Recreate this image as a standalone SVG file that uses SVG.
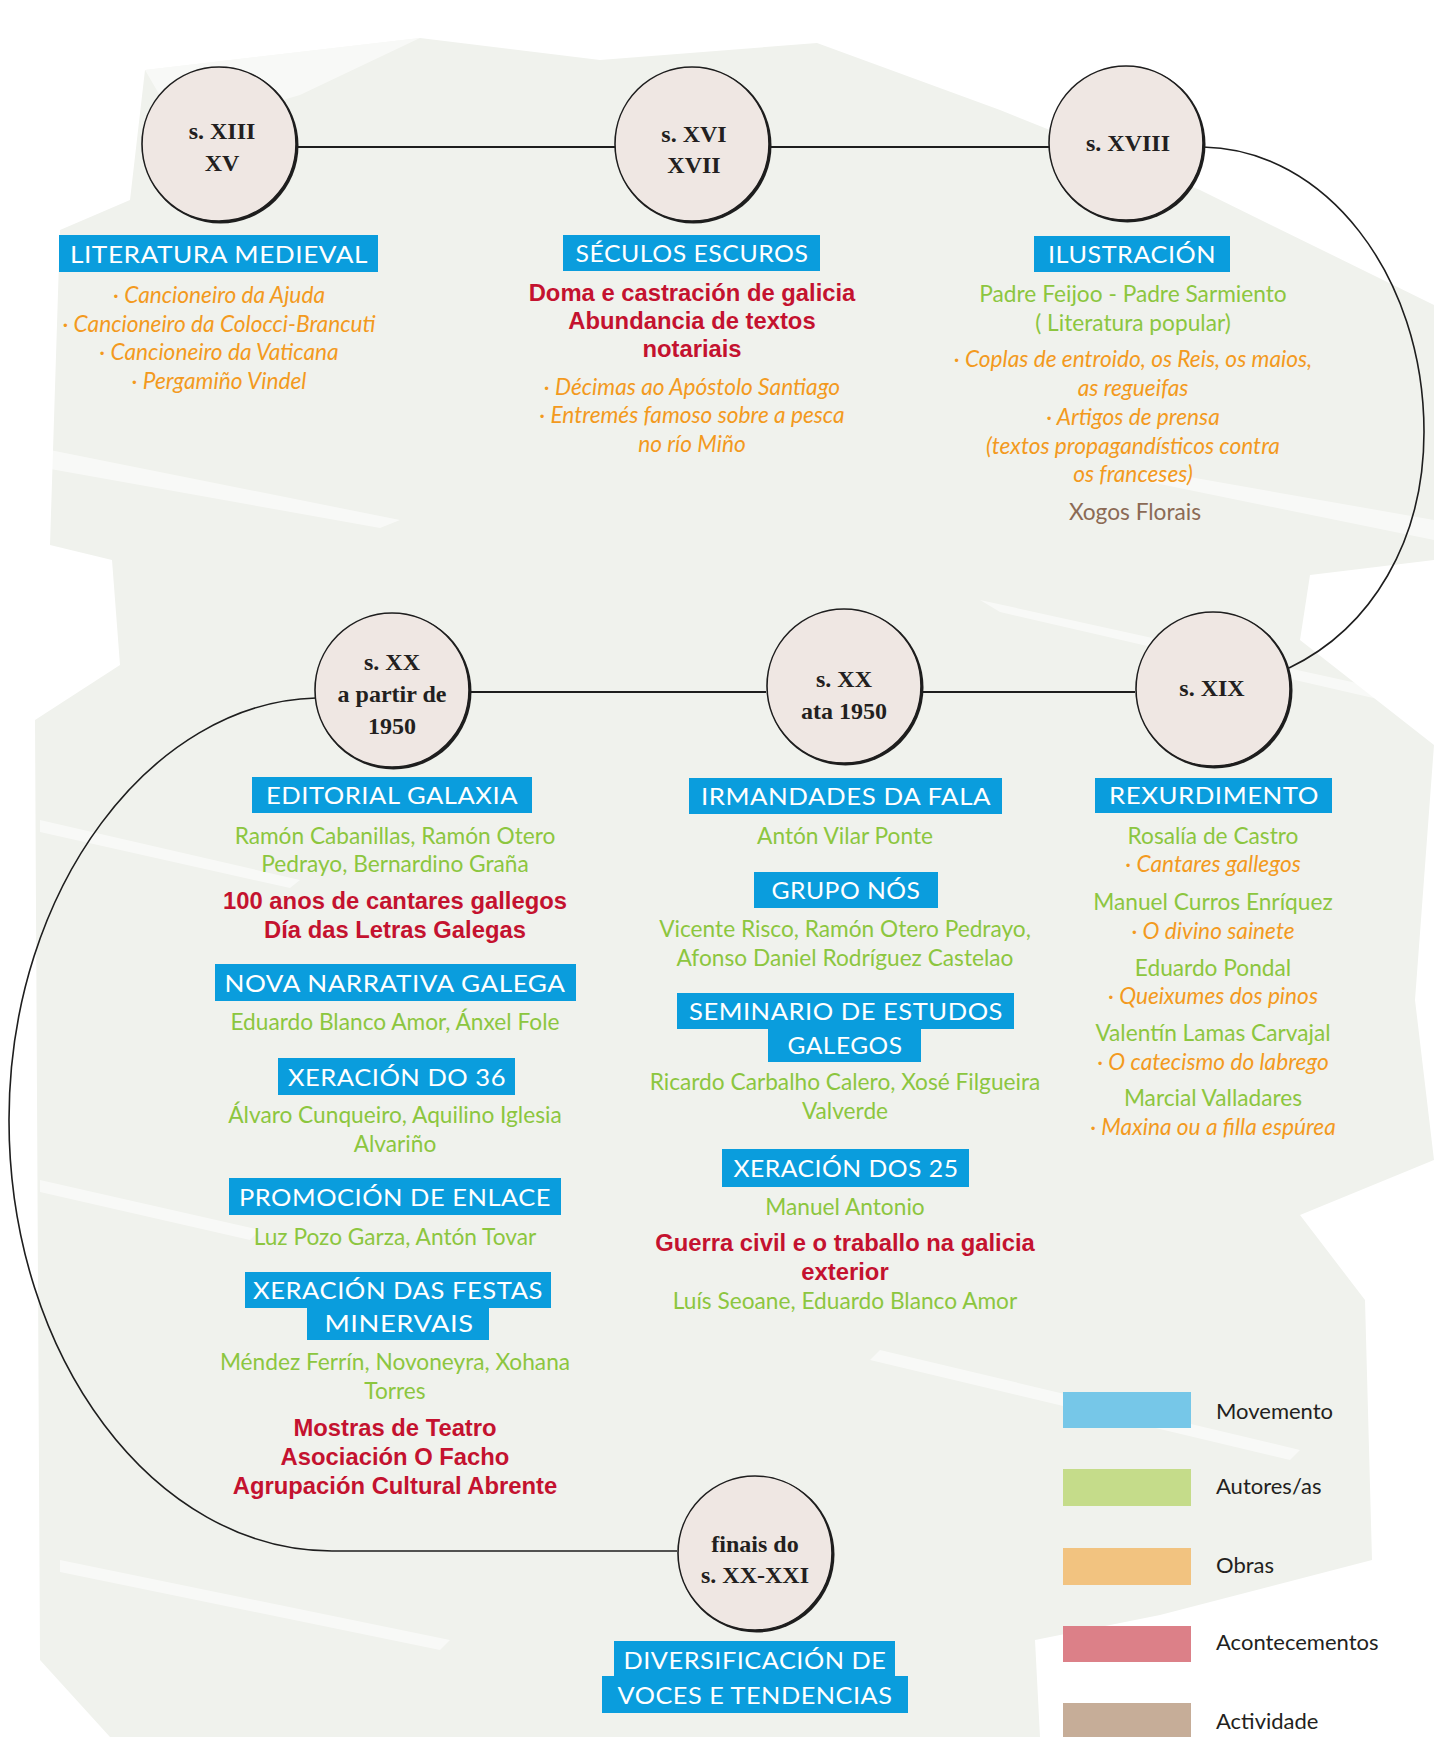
<svg xmlns="http://www.w3.org/2000/svg" width="1434" height="1737" viewBox="0 0 1434 1737">
<style>
.bg{fill:#f0f2ed}
.streak{fill:#ffffff;opacity:0.55}
.cshadow{fill:#1e1e1e}
.cnode{fill:#efe7e3;stroke:#1e1e1e;stroke-width:1.6}
.ctext{font-family:"Liberation Serif",serif;font-weight:bold;font-size:24px;fill:#231f20;text-anchor:middle}
.conn{fill:none;stroke:#1e1e1e;stroke-width:1.8}
.arc{fill:none;stroke:#1e1e1e;stroke-width:1.6}
.hbox{fill:#0a9ddd}
.htext{font-family:Lato,"Open Sans",sans-serif;font-size:24px;fill:#ffffff;text-anchor:middle;letter-spacing:0.5px}
.g{font-family:Lato,"Open Sans",sans-serif;font-size:22.7px;fill:#8cc63f;text-anchor:middle}
.o{font-family:Lato,"Open Sans",sans-serif;font-style:italic;font-size:22.7px;fill:#f39a1e;text-anchor:middle}
.r{font-family:"Liberation Sans",Arial,sans-serif;font-weight:bold;font-size:23.8px;fill:#c4122f;text-anchor:middle}
.b{font-family:Lato,"Open Sans",sans-serif;font-size:22.7px;fill:#8b6a55;text-anchor:middle}
.lg{font-family:Lato,"Open Sans",sans-serif;font-size:22px;fill:#231f20}
</style>

<g id="background">
<path class="bg" d="M60,230 L130,200 L145,70 L420,38 L600,60 L817,43 L1000,110 L1200,190 L1434,305 L1434,560 L1310,575 L1300,640 L1434,745 L1415,1000 L1434,1160 L1300,1215 L1365,1300 L1372,1560 L1160,1615 L1035,1640 L1040,1737 L110,1737 L40,1660 L35,720 L120,665 L112,560 L50,545 Z"/>
<path class="streak" d="M145,70 L420,38 L300,95 L180,130 Z"/>
<path class="streak" d="M0,440 L400,520 L380,528 L0,460 Z"/>
<path class="streak" d="M1150,470 L1434,520 L1434,540 L1140,480 Z"/>
<path class="streak" d="M980,600 L1434,700 L1434,712 L1000,612 Z"/>
<path class="streak" d="M40,820 L300,880 L290,888 L40,832 Z"/>
<path class="streak" d="M40,1180 L260,1230 L250,1240 L40,1192 Z"/>
<path class="streak" d="M880,1350 L1300,1450 L1290,1460 L870,1360 Z"/>
<path class="streak" d="M60,1560 L450,1640 L440,1650 L60,1572 Z"/>
</g>

<g id="connectors">
<path class="conn" d="M297,147 L615,147"/>
<path class="conn" d="M769,147 L1049,147"/>
<path class="arc" d="M1203,147 C1325,149 1424,275 1424,432 C1424,540 1372,628 1289,668"/>
<path class="conn" d="M470,692 L766,692"/>
<path class="conn" d="M922,692 L1135,692"/>
<path class="arc" d="M316,698 C153,702 9,887 9,1120 C9,1358 155,1551 332,1551 L677,1551"/>
</g>

<g id="node-s13">
<circle class="cshadow" cx="220.5" cy="145.5" r="78"/>
<circle class="cnode" cx="219" cy="144" r="77"/>
<text class="ctext" x="222" y="139">s. XIII</text>
<text class="ctext" x="222" y="171">XV</text>
</g>
<g id="node-s16">
<circle class="cshadow" cx="693.5" cy="145.5" r="78"/>
<circle class="cnode" cx="692" cy="144" r="77"/>
<text class="ctext" x="694" y="142">s. XVI</text>
<text class="ctext" x="694" y="173">XVII</text>
</g>
<g id="node-s18">
<circle class="cshadow" cx="1127.5" cy="144.5" r="78"/>
<circle class="cnode" cx="1126" cy="143" r="77"/>
<text class="ctext" x="1128" y="151">s. XVIII</text>
</g>
<g id="node-s19">
<circle class="cshadow" cx="1214.5" cy="690.5" r="78"/>
<circle class="cnode" cx="1213" cy="689" r="77"/>
<text class="ctext" x="1212" y="696">s. XIX</text>
</g>
<g id="node-s20a">
<circle class="cshadow" cx="845.5" cy="687.5" r="78"/>
<circle class="cnode" cx="844" cy="686" r="77"/>
<text class="ctext" x="844" y="687">s. XX</text>
<text class="ctext" x="844" y="719">ata 1950</text>
</g>
<g id="node-s20b">
<circle class="cshadow" cx="393.5" cy="691.5" r="78"/>
<circle class="cnode" cx="392" cy="690" r="77"/>
<text class="ctext" x="392" y="670">s. XX</text>
<text class="ctext" x="392" y="702">a partir de</text>
<text class="ctext" x="392" y="734">1950</text>
</g>
<g id="node-s21">
<circle class="cshadow" cx="756.5" cy="1554.5" r="78"/>
<circle class="cnode" cx="755" cy="1553" r="77"/>
<text class="ctext" x="755" y="1552">finais do</text>
<text class="ctext" x="755" y="1583">s. XX-XXI</text>
</g>

<g id="col-medieval">
<rect class="hbox" x="59" y="235" width="319" height="37"/>
<text class="htext" x="219" y="263" textLength="298" lengthAdjust="spacingAndGlyphs">LITERATURA MEDIEVAL</text>
<text class="o" x="219" y="303">· Cancioneiro da Ajuda</text>
<text class="o" x="219" y="332">· Cancioneiro da Colocci-Brancuti</text>
<text class="o" x="219" y="360">· Cancioneiro da Vaticana</text>
<text class="o" x="219" y="389">· Pergamiño Vindel</text>
</g>

<g id="col-escuros">
<rect class="hbox" x="563" y="235" width="257" height="36"/>
<text class="htext" x="692" y="262" textLength="233" lengthAdjust="spacingAndGlyphs">SÉCULOS ESCUROS</text>
<text class="r" x="692" y="301">Doma e castración de galicia</text>
<text class="r" x="692" y="329">Abundancia de textos</text>
<text class="r" x="692" y="357">notariais</text>
<text class="o" x="692" y="395">· Décimas ao Apóstolo Santiago</text>
<text class="o" x="692" y="423">· Entremés famoso sobre a pesca</text>
<text class="o" x="692" y="452">no río Miño</text>
</g>

<g id="col-ilustracion">
<rect class="hbox" x="1034" y="236" width="196" height="36"/>
<text class="htext" x="1132" y="263" textLength="168" lengthAdjust="spacingAndGlyphs">ILUSTRACIÓN</text>
<text class="g" x="1133" y="302">Padre Feijoo - Padre Sarmiento</text>
<text class="g" x="1133" y="331">( Literatura popular)</text>
<text class="o" x="1133" y="367">· Coplas de entroido, os Reis, os maios,</text>
<text class="o" x="1133" y="396">as regueifas</text>
<text class="o" x="1133" y="425">· Artigos de prensa</text>
<text class="o" x="1133" y="454">(textos propagandísticos contra</text>
<text class="o" x="1133" y="482">os franceses)</text>
<text class="b" x="1135" y="520">Xogos Florais</text>
</g>

<g id="col-1950">
<rect class="hbox" x="252" y="777" width="280" height="36"/>
<text class="htext" x="392" y="804" textLength="252" lengthAdjust="spacingAndGlyphs">EDITORIAL GALAXIA</text>
<text class="g" x="395" y="844">Ramón Cabanillas, Ramón Otero</text>
<text class="g" x="395" y="872">Pedrayo, Bernardino Graña</text>
<text class="r" x="395" y="909">100 anos de cantares gallegos</text>
<text class="r" x="395" y="938">Día das Letras Galegas</text>
<rect class="hbox" x="215" y="964" width="361" height="37"/>
<text class="htext" x="395" y="992" textLength="341" lengthAdjust="spacingAndGlyphs">NOVA NARRATIVA GALEGA</text>
<text class="g" x="395" y="1030">Eduardo Blanco Amor, Ánxel Fole</text>
<rect class="hbox" x="278" y="1058" width="237" height="37"/>
<text class="htext" x="397" y="1086" textLength="218" lengthAdjust="spacingAndGlyphs">XERACIÓN DO 36</text>
<text class="g" x="395" y="1123">Álvaro Cunqueiro, Aquilino Iglesia</text>
<text class="g" x="395" y="1152">Alvariño</text>
<rect class="hbox" x="229" y="1178" width="332" height="37"/>
<text class="htext" x="395" y="1206" textLength="312" lengthAdjust="spacingAndGlyphs">PROMOCIÓN DE ENLACE</text>
<text class="g" x="395" y="1245">Luz Pozo Garza, Antón Tovar</text>
<rect class="hbox" x="245" y="1272" width="306" height="36"/>
<rect class="hbox" x="307" y="1305" width="182" height="35"/>
<text class="htext" x="398" y="1299" textLength="290" lengthAdjust="spacingAndGlyphs">XERACIÓN DAS FESTAS</text>
<text class="htext" x="399" y="1332" textLength="149" lengthAdjust="spacingAndGlyphs">MINERVAIS</text>
<text class="g" x="395" y="1370">Méndez Ferrín, Novoneyra, Xohana</text>
<text class="g" x="395" y="1399">Torres</text>
<text class="r" x="395" y="1436">Mostras de Teatro</text>
<text class="r" x="395" y="1465">Asociación O Facho</text>
<text class="r" x="395" y="1494">Agrupación Cultural Abrente</text>
</g>

<g id="col-ata1950">
<rect class="hbox" x="689" y="778" width="313" height="36"/>
<text class="htext" x="846" y="805" textLength="290" lengthAdjust="spacingAndGlyphs">IRMANDADES DA FALA</text>
<text class="g" x="845" y="844">Antón Vilar Ponte</text>
<rect class="hbox" x="754" y="872" width="184" height="36"/>
<text class="htext" x="846" y="899" textLength="149" lengthAdjust="spacingAndGlyphs">GRUPO NÓS</text>
<text class="g" x="845" y="937">Vicente Risco, Ramón Otero Pedrayo,</text>
<text class="g" x="845" y="966">Afonso Daniel Rodríguez Castelao</text>
<rect class="hbox" x="677" y="993" width="337" height="36"/>
<rect class="hbox" x="768" y="1027" width="153" height="35"/>
<text class="htext" x="846" y="1020" textLength="314" lengthAdjust="spacingAndGlyphs">SEMINARIO DE ESTUDOS</text>
<text class="htext" x="845" y="1054" textLength="115" lengthAdjust="spacingAndGlyphs">GALEGOS</text>
<text class="g" x="845" y="1090">Ricardo Carbalho Calero, Xosé Filgueira</text>
<text class="g" x="845" y="1119">Valverde</text>
<rect class="hbox" x="722" y="1149" width="247" height="38"/>
<text class="htext" x="846" y="1177" textLength="225" lengthAdjust="spacingAndGlyphs">XERACIÓN DOS 25</text>
<text class="g" x="845" y="1215">Manuel Antonio</text>
<text class="r" x="845" y="1251">Guerra civil e o traballo na galicia</text>
<text class="r" x="845" y="1280">exterior</text>
<text class="g" x="845" y="1309">Luís Seoane, Eduardo Blanco Amor</text>
</g>

<g id="col-rexurdimento">
<rect class="hbox" x="1095" y="778" width="237" height="35"/>
<text class="htext" x="1214" y="804" textLength="210" lengthAdjust="spacingAndGlyphs">REXURDIMENTO</text>
<text class="g" x="1213" y="844">Rosalía de Castro</text>
<text class="o" x="1213" y="872">· Cantares gallegos</text>
<text class="g" x="1213" y="910">Manuel Curros Enríquez</text>
<text class="o" x="1213" y="939">· O divino sainete</text>
<text class="g" x="1213" y="976">Eduardo Pondal</text>
<text class="o" x="1213" y="1004">· Queixumes dos pinos</text>
<text class="g" x="1213" y="1041">Valentín Lamas Carvajal</text>
<text class="o" x="1213" y="1070">· O catecismo do labrego</text>
<text class="g" x="1213" y="1106">Marcial Valladares</text>
<text class="o" x="1213" y="1135">· Maxina ou a filla espúrea</text>
</g>

<g id="col-diversificacion">
<rect class="hbox" x="614" y="1641" width="281" height="38"/>
<rect class="hbox" x="602" y="1676" width="306" height="37"/>
<text class="htext" x="755" y="1669" textLength="263" lengthAdjust="spacingAndGlyphs">DIVERSIFICACIÓN DE</text>
<text class="htext" x="755" y="1704" textLength="275" lengthAdjust="spacingAndGlyphs">VOCES E TENDENCIAS</text>
</g>

<g id="legend">
<rect x="1063" y="1392" width="128" height="36" fill="#76c7e8"/>
<text class="lg" x="1216" y="1419">Movemento</text>
<rect x="1063" y="1469" width="128" height="37" fill="#c5dc8a"/>
<text class="lg" x="1216" y="1494">Autores/as</text>
<rect x="1063" y="1548" width="128" height="37" fill="#f2c380"/>
<text class="lg" x="1216" y="1573">Obras</text>
<rect x="1063" y="1626" width="128" height="36" fill="#dc8088"/>
<text class="lg" x="1216" y="1650">Acontecementos</text>
<rect x="1063" y="1703" width="128" height="34" fill="#c6ad98"/>
<text class="lg" x="1216" y="1729">Actividade</text>
</g>
</svg>
